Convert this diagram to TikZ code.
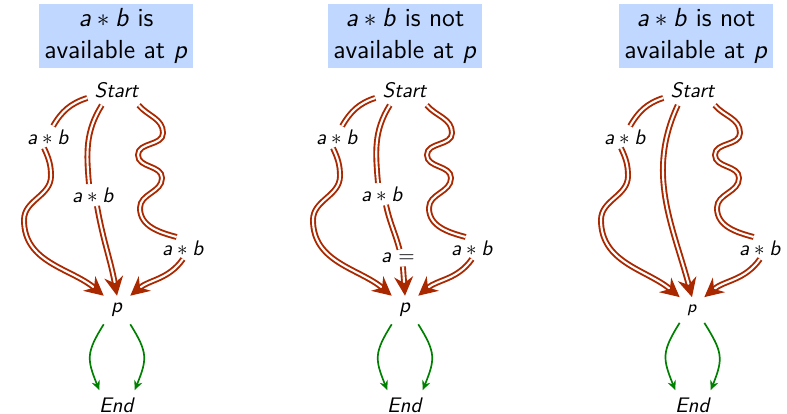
\documentclass[tikz,border=0pt]{standalone}
\usepackage{amsmath}
\usetikzlibrary{arrows.meta}
\renewcommand{\familydefault}{\sfdefault}
\definecolor{pathred}{RGB}{170,40,0}
\definecolor{boxblue}{RGB}{192,216,255}
\definecolor{exitgreen}{RGB}{0,128,0}
\newcommand{\ab}{\textit{a}${}*{}$\textit{b}}

\begin{document}
\begin{tikzpicture}[x=0.0167cm, y=0.0167cm,
  title/.style={fill=boxblue, align=center, font=\fontsize{12.4}{15}\selectfont, inner sep=2.4pt},
  lbl/.style={inner sep=1.5pt},
  wire/.style={pathred, line width=0.9pt, double=white, double distance=1pt},
  flow/.style={wire, -{Stealth[length=9pt, width=9pt, inset=3pt]}},
  exit/.style={exitgreen, thick, -{Stealth[length=4.5pt, width=4pt]}, looseness=1.3}]
  \useasboundingbox (0,0) rectangle (787,414);

  % available
  \node[title] (t1) at (116,378) {\ab{} is\\available at \textit{p}};
  \node (s1) at (117,324) {\textit{Start}};
  \node[lbl] (l1) at (48,277) {\ab};
  \node[lbl] (m1) at (93,219) {\ab};
  \node[lbl] (r1) at (183,166) {\ab};
  \node (p1) at (117,104) {\textit{p}};
  \node (e1) at (117,9) {\textit{End}};

  \draw[wire] (s1.195) to[out=198,in=60] (l1.65);
  \draw[flow] (l1.250) to[out=-65,in=90] (51,238) to[out=-90,in=90] (24,194) to[out=-90,in=140] (p1.north west);
  \draw[wire] (s1.225) to[out=238,in=95] (m1.110);
  \draw[flow] (m1.-70) to[out=-80,in=100] (p1.north);
  \draw[wire] (s1.-35) to[out=-50,in=90] (163,281) to[out=-90,in=90] (138,259) to[out=-90,in=90] (162,236) to[out=-90,in=90] (140,206) to[out=-90,in=165] (r1.120);
  \draw[flow] (r1.south) to[out=-125,in=40] (p1.north east);
  \draw[exit] (p1.south west) to[out=-122,in=112] (e1.140);
  \draw[exit] (p1.south east) to[out=-58,in=68] (e1.40);

  % not available
  \begin{scope}[shift={(288,0)}]
    \node[title] (t2) at (117,378) {\ab{} is not\\available at \textit{p}};
    \node (s2) at (117,324) {\textit{Start}};
    \node[lbl] (l2) at (49,277) {\ab};
    \node[lbl] (m2) at (94,220) {\ab};
    \node[lbl] (q2) at (110,156) {\textit{a} $=$};
    \node[lbl] (r2) at (184,166) {\ab};
    \node (p2) at (117,104) {\textit{p}};
    \node (e2) at (117,9) {\textit{End}};

    \draw[wire] (s2.195) to[out=198,in=60] (l2.65);
    \draw[flow] (l2.250) to[out=-65,in=90] (52,238) to[out=-90,in=90] (25,194) to[out=-90,in=140] (p2.north west);
    \draw[wire] (s2.225) to[out=238,in=95] (m2.110);
    \draw[wire] (m2.-70) to[out=-78,in=105] (q2.80);
    \draw[flow] (q2.-60) -- (p2.north);
    \draw[wire] (s2.-35) to[out=-50,in=90] (164,281) to[out=-90,in=90] (139,259) to[out=-90,in=90] (163,236) to[out=-90,in=90] (141,206) to[out=-90,in=165] (r2.120);
    \draw[flow] (r2.south) to[out=-125,in=40] (p2.north east);
    \draw[exit] (p2.south west) to[out=-122,in=112] (e2.140);
    \draw[exit] (p2.south east) to[out=-58,in=68] (e2.40);
  \end{scope}

  % not available, one path
  \begin{scope}[shift={(576,0)}]
    \node[title] (t3) at (120,378) {\ab{} is not\\available at \textit{p}};
    \node (s3) at (117,324) {\textit{Start}};
    \node[lbl] (l3) at (49,277) {\ab};
    \node[lbl] (r3) at (184,166) {\ab};
    \node[font=\footnotesize] (p3) at (116,104) {\textit{p}};
    \node (e3) at (117,9) {\textit{End}};

    \draw[wire] (s3.195) to[out=198,in=60] (l3.65);
    \draw[flow] (l3.250) to[out=-65,in=90] (52,238) to[out=-90,in=90] (25,194) to[out=-90,in=140] (p3.north west);
    \draw[flow] (s3.225) to[out=245,in=105] (p3.north);
    \draw[wire] (s3.-35) to[out=-50,in=90] (164,281) to[out=-90,in=90] (139,259) to[out=-90,in=90] (163,236) to[out=-90,in=90] (141,206) to[out=-90,in=165] (r3.120);
    \draw[flow] (r3.south) to[out=-125,in=40] (p3.north east);
    \draw[exit] (p3.south west) to[out=-122,in=112] (e3.140);
    \draw[exit] (p3.south east) to[out=-58,in=68] (e3.40);
  \end{scope}
\end{tikzpicture}
\end{document}
